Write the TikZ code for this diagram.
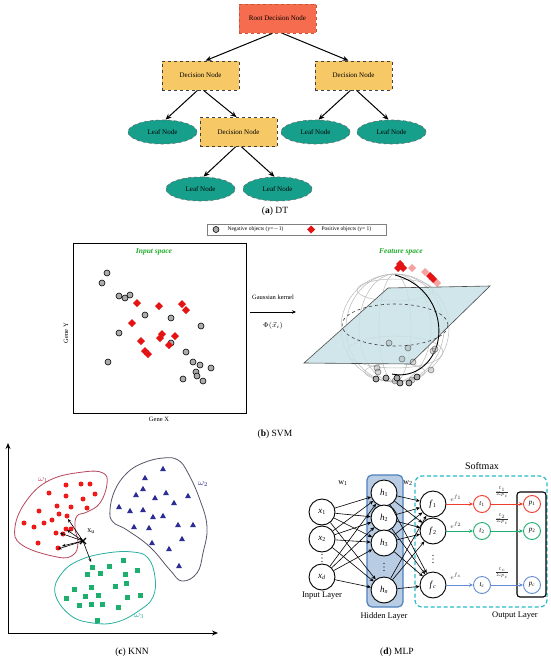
\documentclass[tikz,border=0pt]{standalone}
\usepackage{fontspec}
\setmainfont{Liberation Serif}
\usetikzlibrary{shapes.geometric,arrows.meta}
\definecolor{rootc}{RGB}{246,108,78}
\definecolor{decc}{RGB}{246,200,102}
\definecolor{leafc}{RGB}{22,160,140}
\definecolor{posred}{RGB}{228,20,20}
\definecolor{spacegreen}{RGB}{30,170,40}
\definecolor{planec}{RGB}{200,226,232}
\definecolor{kred}{RGB}{240,25,25}
\definecolor{kredline}{RGB}{185,70,90}
\definecolor{knavy}{RGB}{45,45,150}
\definecolor{kblueline}{RGB}{85,85,105}
\definecolor{kgreen}{RGB}{30,175,110}
\definecolor{kgreenline}{RGB}{40,175,160}
\definecolor{mred}{RGB}{240,60,45}
\definecolor{mgreen}{RGB}{30,175,110}
\definecolor{mblue}{RGB}{100,140,210}
\definecolor{hidfill}{RGB}{184,204,228}
\definecolor{hidline}{RGB}{79,129,189}
\definecolor{softc}{RGB}{43,187,200}
\newcommand\negpt[3][1]{\filldraw[fill=gray!65, draw=black, line width=0.6pt, opacity=#1] (#2,#3) circle[radius=3pt];}
\newcommand\pospt[3][1]{\fill[posred, opacity=#1] (#2,#3) +(0,-4) -- +(4,0) -- +(0,4) -- +(-4,0) -- cycle;}
\newcommand\kdot[2]{\fill[kred] (#1,#2) circle[radius=2.5pt];}
\newcommand\ktri[2]{\fill[knavy] (#1,#2) +(0,-3.2) -- +(2.9,2) -- +(-2.9,2) -- cycle;}
\newcommand\ksq[2]{\fill[kgreen] (#1,#2) +(-2.5,-2.5) rectangle +(2.5,2.5);}
\newcommand\vdotmark[2]{\fill (#1,#2) +(0,-3.5) circle[radius=0.55pt] +(0,0) circle[radius=0.55pt] +(0,3.5) circle[radius=0.55pt];}
\begin{document}
\begin{tikzpicture}[x=1pt,y=-1pt,
  font=\fontsize{7}{8}\selectfont,
  decbox/.style={rectangle, fill=decc, draw=black!75, dashed, line width=0.7pt, minimum width=77pt, minimum height=29pt, inner sep=0},
  rootbox/.style={decbox, fill=rootc, draw=rootc!80!black},
  leafnode/.style={ellipse, fill=leafc, draw=black!60, dashed, line width=0.6pt, minimum width=69pt, minimum height=24pt, inner sep=0},
  dtarrow/.style={line width=1pt, -{Stealth[length=6pt,width=5pt]}},
  captionlbl/.style={font=\fontsize{9.5}{10}\selectfont},
  neuron/.style={circle, draw, line width=0.9pt, minimum size=26pt, inner sep=0, font=\fontsize{9}{9}\selectfont},
  sneuron/.style={circle, line width=0.9pt, minimum size=17pt, inner sep=0, font=\fontsize{7}{7}\selectfont, fill=white},
  mlparrow/.style={line width=0.6pt, -{Stealth[length=4pt,width=3.5pt]}},
  karrow/.style={line width=0.6pt, -{Stealth[length=3.5pt,width=3pt]}},
  layerlbl/.style={font=\fontsize{8.5}{9}\selectfont},
  tinylbl/.style={inner sep=0, text=black!80, font=\fontsize{6}{6}\selectfont}
]
\useasboundingbox (0,0) rectangle (550,661);
\fill[white] (0,0) rectangle (550,661);

% ---------------- (a) DT ----------------
\node[rootbox] (root) at (277.5,18.5) {Root Decision Node};
\node[decbox] (d1) at (200.5,75.5) {Decision Node};
\node[decbox] (d2) at (353.5,75.5) {Decision Node};
\node[leafnode] (l1) at (162.5,132) {Leaf Node};
\node[decbox] (d3) at (238.5,132) {Decision Node};
\node[leafnode] (l3) at (315.5,132) {Leaf Node};
\node[leafnode] (l4) at (391.5,132) {Leaf Node};
\node[leafnode] (l5) at (200.5,189) {Leaf Node};
\node[leafnode] (l6) at (277.5,189) {Leaf Node};
\draw[dtarrow] ([xshift=-5pt]root.south) -- ([xshift=5pt]d1.north);
\draw[dtarrow] ([xshift=5pt]root.south) -- ([xshift=-5pt]d2.north);
\draw[dtarrow] ([xshift=-3pt]d1.south) -- ([xshift=3pt]l1.north);
\draw[dtarrow] ([xshift=3pt]d1.south) -- ([xshift=-2pt]d3.north);
\draw[dtarrow] ([xshift=-3pt]d2.south) -- ([xshift=3pt]l3.north);
\draw[dtarrow] ([xshift=3pt]d2.south) -- ([xshift=-3pt]l4.north);
\draw[dtarrow] ([xshift=-3pt]d3.south) -- ([xshift=3pt]l5.north);
\draw[dtarrow] ([xshift=3pt]d3.south) -- ([xshift=-3pt]l6.north);
\node[captionlbl] (capa) at (275,211) {(\textbf{a}) DT};

% ---------------- (b) SVM ----------------
\node[draw=gray, line width=0.6pt, minimum width=179pt, minimum height=11pt, inner sep=0] (legend) at (296.5,229.5) {};
\negpt{216}{229.5}
\node[anchor=west, font=\fontsize{5.5}{6}\selectfont] (legneg) at (224,229.5) {Negative objects (y=$-$1)};
\pospt{311}{229.5}
\node[anchor=west, font=\fontsize{5.5}{6}\selectfont] (legpos) at (318,229.5) {Positive objects (y= 1)};

\draw[line width=0.6pt] (73,243) rectangle (246,413);
\node[text=spacegreen, font=\fontsize{7.5}{8}\selectfont\itshape\bfseries] (inspace) at (154,252) {Input space};
\node[rotate=90, font=\fontsize{6.5}{7}\selectfont] (geney) at (66,333) {Gene Y};
\node[font=\fontsize{6.5}{7}\selectfont] (genex) at (159,419) {Gene X};
\foreach \x/\y in {107/273,102/283,119/296,125/298,130/295,145/315,171/318,201/326,119/333,171/343,186/352,108/362,193/362,200/365,211/368,196/372,197/376,183/379,203/381}
  {\negpt{\x}{\y}}
\foreach \x/\y in {137/303,159/306,182/304,186/310,132/323,162/334,160/338,175/336,141/341,169/345,145/351,148/354}
  {\pospt{\x}{\y}}

\coordinate (ka) at (250,312);
\coordinate (kb) at (296,312);
\draw[line width=0.8pt, -{Stealth[length=4pt,width=3.5pt]}] (ka) -- (kb);
\node[font=\fontsize{6.5}{7}\selectfont] (gk) at (273,297) {Gaussian kernel};
\node[font=\fontsize{7}{8}\selectfont] (phi) at (273,326) {$\Phi(\vec{x}_i)$};

\node[text=spacegreen, font=\fontsize{7.5}{8}\selectfont\itshape\bfseries] (fspace) at (401,252) {Feature space};
% sphere wireframe
\begin{scope}[gray!55, line width=0.5pt]
  \draw (395,328) circle[radius=54pt];
  \foreach \rx in {16,36,49} {\draw (395,328) ellipse[x radius=\rx pt, y radius=54pt];}
  \draw (395,290) ellipse[x radius=38pt, y radius=11pt];
  \draw (395,352) ellipse[x radius=48pt, y radius=16pt];
  \draw (395,372) ellipse[x radius=30pt, y radius=9pt];
\end{scope}
\fill[planec, opacity=0.85] (304,363) -- (388,288) -- (490,286) -- (410,364) -- cycle;
\draw[black!70, line width=0.6pt] (304,363) -- (388,288) -- (490,286) -- (410,364) -- cycle;
\draw[black!75, dashed, line width=0.6pt] (395,325) ellipse[x radius=53pt, y radius=21pt];
\draw[black, line width=0.9pt] (395,275) .. controls (432,285) and (444,320) .. (437,345) .. controls (430,368) and (410,378) .. (392,374);
\foreach \x/\y in {389/343,408/348,433/351,435/349,402/359,413/362,377/368,378/372,431/370,395/381,412/380}
  {\negpt[0.45]{\x}{\y}}
\foreach \x/\y in {376/379,386/378,397/378,409/383,417/377,400/383}
  {\negpt{\x}{\y}}
\foreach \x/\y in {412/268,425/272,437/283}
  {\pospt[0.4]{\x}{\y}}
\foreach \x/\y in {398/268,400/264,403/268,430/276,433/279}
  {\pospt{\x}{\y}}
\node[captionlbl] (capb) at (275,434) {(\textbf{b}) SVM};

% ---------------- (c) KNN ----------------
\coordinate (origin) at (8,633);
\coordinate (yend) at (8,443);
\coordinate (xend) at (218,633);
\draw[line width=0.9pt, -{Stealth[length=6pt,width=5pt]}] (origin) -- (yend);
\draw[line width=0.9pt, -{Stealth[length=6pt,width=5pt]}] (origin) -- (xend);
\draw[kredline, line width=0.8pt] plot[smooth cycle, tension=0.7] coordinates {(15,527) (27,500) (50,480) (83,472) (103,473) (107,484) (100,503) (87,512) (77,516) (75,528) (78,543) (73,555) (57,557) (22,545)};
\draw[kblueline, line width=0.8pt] plot[smooth cycle, tension=0.7] coordinates {(110,510) (115,490) (127,473) (143,463) (163,458) (178,460) (188,473) (200,500) (207,527) (203,553) (197,573) (182,581) (170,570) (150,547) (127,530) (113,522)};
\draw[kgreenline, line width=0.8pt] plot[smooth cycle, tension=0.7] coordinates {(55,593) (62,573) (80,560) (107,553) (133,552) (148,558) (155,577) (153,597) (140,610) (117,622) (93,623) (70,615)};
\node[text=kredline, font=\fontsize{9}{9}\selectfont] (w1lbl) at (43,480) {$\omega_1$};
\node[text=knavy, font=\fontsize{9}{9}\selectfont] (w2lbl) at (203,484) {$\omega_2$};
\node[text=kgreenline, font=\fontsize{9}{9}\selectfont] (w3lbl) at (139,616) {$\omega_3$};
\foreach \x/\y in {66/485,81/484,90/484,49/493,66/496,95/494,83/499,57/506,71/507,39/511,87/508,59/514,67/516,52/520,24/523,44/523,34/527,66/529,71/529,56/533,63/534,38/543,58/548}
  {\kdot{\x}{\y}}
\foreach \x/\y in {163/469,145/478,143/489,166/493,136/495,155/498,188/496,174/503,119/507,130/511,143/510,153/517,163/516,134/527,149/528,178/525,193/525,182/539,152/543,169/549,179/566}
  {\ktri{\x}{\y}}
\foreach \x/\y in {123/560,92/567,109/566,137/570,87/574,100/573,125/574,126/583,115/586,91/587,74/589,85/596,98/595,127/597,140/595,66/598,79/605,91/604,102/604,118/607,97/620}
  {\ksq{\x}{\y}}
\coordinate (xu) at (83,541);
\coordinate (n1) at (68,519);
\coordinate (n2) at (60,533);
\coordinate (n3) at (67,530);
\coordinate (n4) at (62,546);
\coordinate (n5) at (58,549);
\coordinate (n6) at (91,562);
\foreach \t in {n1,n2,n3,n4,n5,n6} {\draw[karrow] (xu) -- (\t);}
\draw[line width=1.3pt] (80,538) -- (86,544) (80,544) -- (86,538);
\node[font=\fontsize{8}{8}\selectfont] (xulbl) at (91,531) {x\textsubscript{u}};
\node[captionlbl] (capc) at (132,652) {(\textbf{c}) KNN};

% ---------------- (d) MLP ----------------
\draw[fill=hidfill, draw=hidline, line width=1.2pt, rounded corners=5pt] (367,475) rectangle (403,607);
\draw[softc, line width=1.2pt, dash pattern=on 4pt off 2.5pt, rounded corners=7pt] (415,476) rectangle (547,607);
\draw[black, line width=1.1pt, rounded corners=3pt] (517,492) rectangle (546,597);
\node[font=\fontsize{10}{10}\selectfont] (softlbl) at (482,466) {Softmax};
\node[neuron] (x1) at (322,512) {\textit{x}\textsubscript{1}};
\node[neuron] (x2) at (322,539) {\textit{x}\textsubscript{2}};
\vdotmark{322}{558}
\node[neuron] (xd) at (322,577) {\textit{x}\textsubscript{\textit{d}}};
\node[neuron, fill=white] (h1) at (384,493) {\textit{h}\textsubscript{1}};
\node[neuron, fill=white] (h2) at (384,518) {\textit{h}\textsubscript{2}};
\node[neuron, fill=white] (h3) at (384,543) {\textit{h}\textsubscript{3}};
\vdotmark{384}{567}
\node[neuron, fill=white] (hn) at (384,590) {\textit{h}\textsubscript{\textit{n}}};
\node[neuron] (f1) at (433,504) {\textit{f}\textsubscript{1}};
\node[neuron] (f2) at (433,531) {\textit{f}\textsubscript{2}};
\vdotmark{433}{559}
\node[neuron] (fc) at (433,585) {\textit{f}\textsubscript{\textit{c}}};
\foreach \i in {x1,x2,xd} \foreach \j in {h1,h2,h3,hn} {\draw[mlparrow] (\i) -- (\j);}
\foreach \i in {h1,h2,h3,hn} \foreach \j in {f1,f2,fc} {\draw[mlparrow] (\i) -- (\j);}
\node[sneuron, draw=mred] (t1) at (482,504) {\textit{t}\textsubscript{1}};
\node[sneuron, draw=mgreen] (t2) at (482,531) {\textit{t}\textsubscript{2}};
\node[sneuron, draw=mblue] (tc) at (482,585) {\textit{t}\textsubscript{\textit{c}}};
\node[sneuron, draw=mred] (p1) at (532,504) {\textit{p}\textsubscript{1}};
\node[sneuron, draw=mgreen] (p2) at (532,531) {\textit{p}\textsubscript{2}};
\node[sneuron, draw=mblue] (pc) at (532,585) {\textit{p}\textsubscript{\textit{c}}};
\draw[mlparrow, mred, line width=0.8pt] (f1) -- (t1);
\draw[mlparrow, mgreen, line width=0.8pt] (f2) -- (t2);
\draw[mlparrow, mblue, line width=0.8pt] (fc) -- (tc);
\draw[mlparrow, mred, line width=0.8pt] (t1) -- (p1);
\draw[mlparrow, mgreen, line width=0.8pt] (t2) -- (p2);
\draw[mlparrow, mblue, line width=0.8pt] (tc) -- (pc);
\node[tinylbl] (e1) at (456,498) {$e^{f_1}$};
\node[tinylbl] (e2) at (456,525) {$e^{f_2}$};
\node[tinylbl] (ec) at (456,576) {$e^{f_c}$};
\node[tinylbl] (q1) at (502,492) {$\frac{t_1}{\Sigma p_i}$};
\node[tinylbl] (q2) at (502,519) {$\frac{t_2}{\Sigma p_i}$};
\node[tinylbl] (qc) at (502,573) {$\frac{t_c}{\Sigma p_i}$};
\node[font=\fontsize{8}{8}\selectfont] (w1) at (343,483) {w\textsubscript{1}};
\node[font=\fontsize{8}{8}\selectfont] (w2) at (408,483) {w\textsubscript{2}};
\node[layerlbl] (inlbl) at (322,596) {Input Layer};
\node[layerlbl] (hidlbl) at (384,616) {Hidden Layer};
\node[layerlbl] (outlbl) at (515,616) {Output Layer};
\node[captionlbl] (capd) at (397,652) {(\textbf{d}) MLP};
\end{tikzpicture}
\end{document}
